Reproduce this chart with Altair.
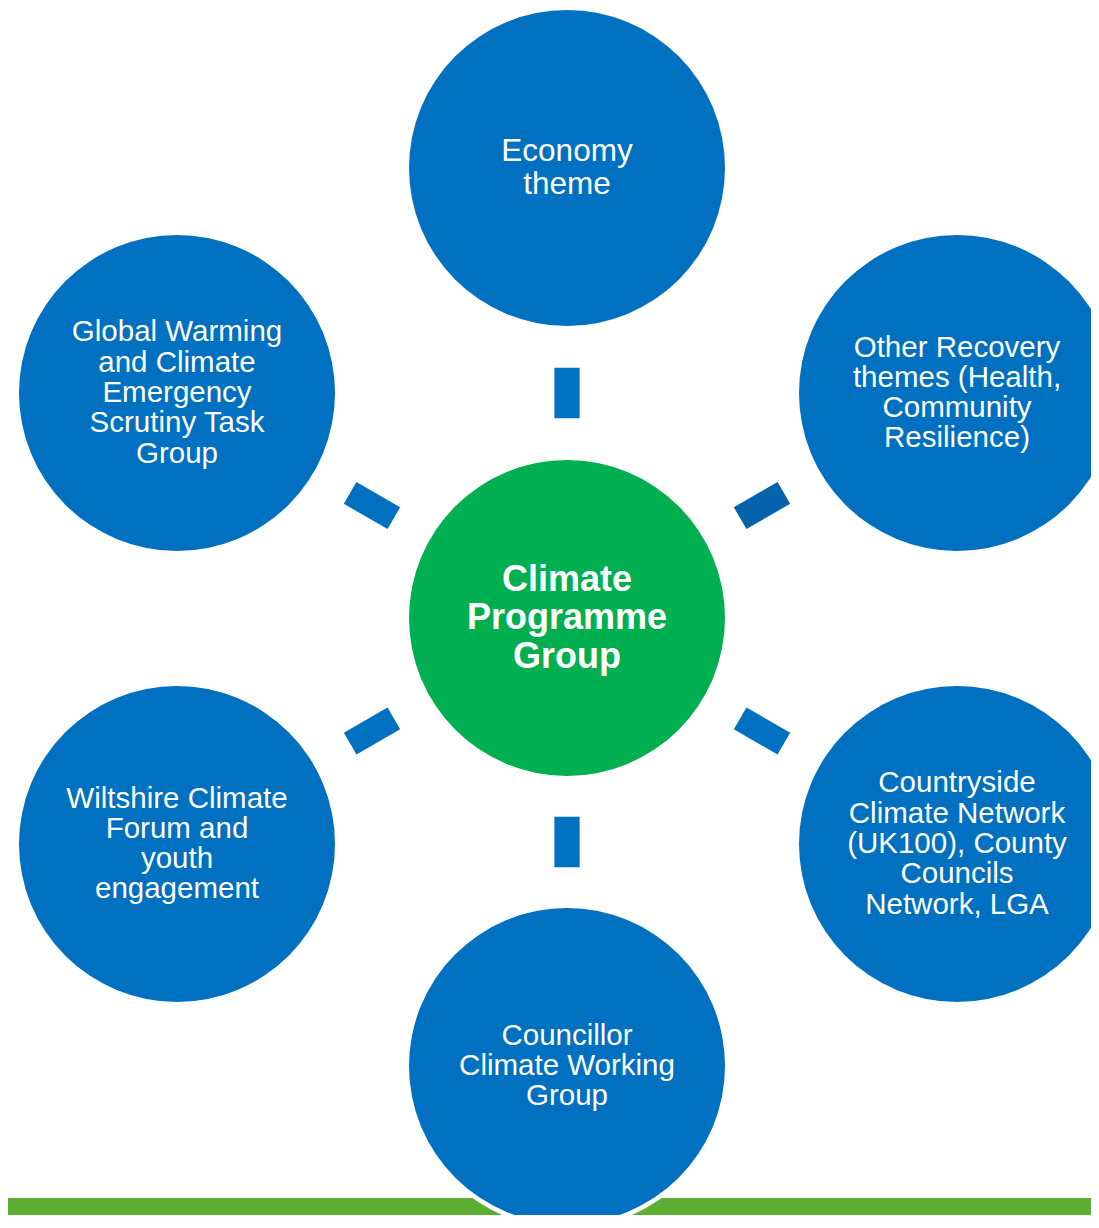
import altair as alt
import pandas as pd
import math

# Diagram nodes (screen-pixel layout of the reference)
labels = [
    ["Economy", "theme"],
    ["Other Recovery", "themes (Health,", "Community", "Resilience)"],
    ["Countryside", "Climate Network", "(UK100), County", "Councils", "Network, LGA"],
    ["Councillor", "Climate Working", "Group"],
    ["Wiltshire Climate", "Forum and", "youth", "engagement"],
    ["Global Warming", "and Climate", "Emergency", "Scrutiny Task", "Group"],
]
node_x = [567, 957, 957, 567, 177, 177]
node_y = [168, 393, 844, 1066, 844, 393]
connector_colors = ["#0070C0", "#0563AD", "#0070C0", "#0070C0", "#0070C0", "#0070C0"]
node_font = [31.5, 29.5, 29.5, 29.5, 29.5, 29.5]
node_lh = [33, 30.3, 30.3, 30.3, 30.3, 30.3]

hub_label = ["Climate", "Programme", "Group"]
hub_x = 567
hub_y = 618
HUB_LH = 38.5

W, H = 1083, 1207
OFF = 8  # page margin

nodes = pd.DataFrame({"x": node_x, "y": node_y})
hub = pd.DataFrame({"x": [hub_x], "y": [hub_y]})


def text_rows(lines, x, y, lh, fs):
    n = len(lines)
    return [{"line": t, "x": x, "y": y + (i - (n - 1) / 2) * lh, "fs": fs}
            for i, t in enumerate(lines)]


node_lines = pd.DataFrame(
    [r for lines, x, y, lh, fs in zip(labels, node_x, node_y, node_lh, node_font)
     for r in text_rows(lines, x, y, lh, fs)]
)
hub_lines = pd.DataFrame(text_rows(hub_label, hub_x, hub_y, HUB_LH, 36))

# connectors at midpoints between hub and each node, oriented radially
conn = pd.DataFrame({
    "x": [(hub_x + x) / 2 for x in node_x],
    "y": [(hub_y + y) / 2 for y in node_y],
    "angle": [math.degrees(math.atan2(y - hub_y, x - hub_x)) % 360 for x, y in zip(node_x, node_y)],
    "color": connector_colors,
})

bar = pd.DataFrame({"x": [0], "x2": [1100], "y": [1198], "y2": [1240]})

xs = alt.Scale(domain=[OFF, OFF + W], nice=False, zero=False)
ys = alt.Scale(domain=[OFF, OFF + H], nice=False, zero=False, reverse=True)
X = lambda f="x": alt.X(f"{f}:Q", scale=xs, axis=None)
Y = lambda f="y": alt.Y(f"{f}:Q", scale=ys, axis=None)

D = 316  # circle diameter

bar_layer = alt.Chart(bar).mark_rect(color="#5CAF32").encode(
    x=X(), x2="x2:Q", y=Y(), y2="y2:Q"
)

halo = alt.Chart(nodes).mark_circle(color="white", opacity=1, size=(D + 9) ** 2).encode(
    x=X(), y=Y()
)

circles = alt.Chart(nodes).mark_circle(color="#0070C0", opacity=1, size=D ** 2).encode(
    x=X(), y=Y()
)

hub_circle = alt.Chart(hub).mark_circle(color="#00B050", opacity=1, size=D ** 2).encode(
    x=X(), y=Y()
)

connectors = alt.Chart(conn).mark_point(
    shape="M-1,-0.5L1,-0.5L1,0.5L-1,0.5Z", filled=True, opacity=1, size=2550, strokeWidth=0
).encode(
    x=X(), y=Y(),
    angle=alt.Angle("angle:Q", scale=None),
    color=alt.Color("color:N", scale=None),
)

node_text = alt.Chart(node_lines).mark_text(
    color="white", font="Liberation Sans",
    align="center", baseline="middle"
).encode(x=X(), y=Y(), text="line:N", size=alt.Size("fs:Q", scale=None))

hub_text = alt.Chart(hub_lines).mark_text(
    color="white", font="Liberation Sans", fontSize=36, fontWeight="bold",
    align="center", baseline="middle"
).encode(x=X(), y=Y(), text="line:N")

chart = alt.layer(
    bar_layer, halo, circles, hub_circle, connectors, node_text, hub_text
).properties(
    width=W, height=H, padding=0, autosize=alt.AutoSizeParams(type="none")
).configure_view(stroke=None)

chart.save("out.html", embed_options={"renderer": "svg", "actions": False})
